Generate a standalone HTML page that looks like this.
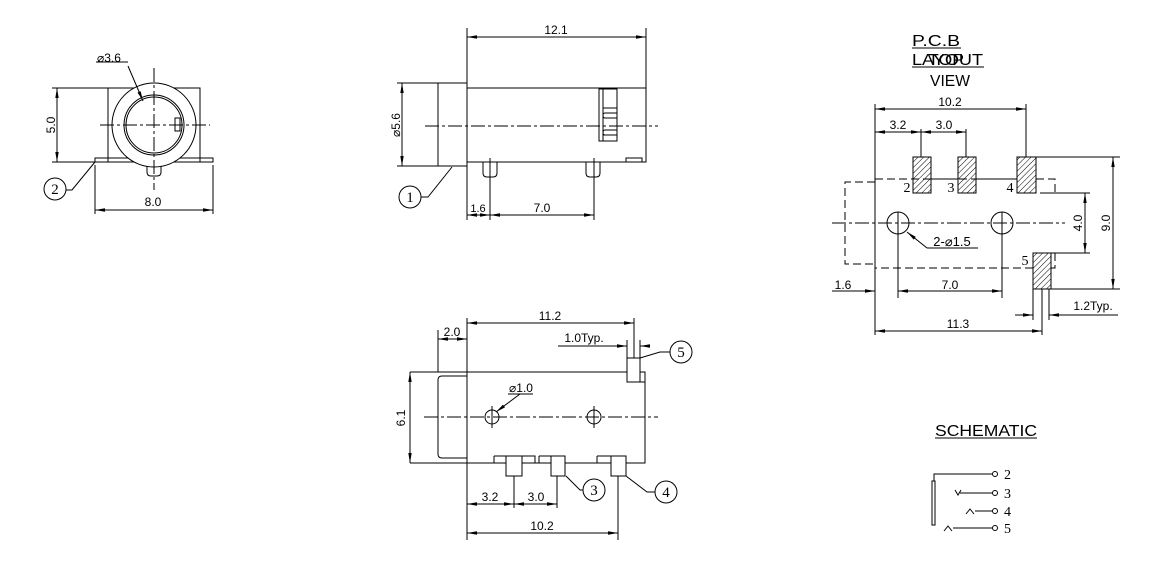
<!DOCTYPE html>
<html><head><meta charset="utf-8"><style>
html,body{margin:0;padding:0;background:#fff}
svg{display:block}
text{font-family:"Liberation Sans",sans-serif;font-size:12px;fill:#000}
.s{font-family:"Liberation Serif",serif;font-size:15px}
</style></head><body>
<svg width="1163" height="582" viewBox="0 0 1163 582" xmlns="http://www.w3.org/2000/svg">
<defs>
<marker id="a" markerWidth="10" markerHeight="6" refX="10" refY="3" orient="auto" markerUnits="userSpaceOnUse"><path d="M0,1.3 L10,3 L0,4.7z" fill="#000"/></marker>
<marker id="b" markerWidth="10" markerHeight="6" refX="0" refY="3" orient="auto" markerUnits="userSpaceOnUse"><path d="M10,1.3 L0,3 L10,4.7z" fill="#000"/></marker>
<pattern id="h" width="4" height="4" patternUnits="userSpaceOnUse" patternTransform="rotate(45)"><line x1="0" y1="0" x2="0" y2="4" stroke="#000" stroke-width="1"/></pattern>
</defs>
<g fill="none" stroke="#000" stroke-width="1">
<!-- VIEW 1 -->
<rect x="108" y="88" width="92" height="74"/>
<rect x="95" y="158" width="118" height="4"/>
<circle cx="154" cy="125" r="42" fill="#fff"/>
<circle cx="154" cy="125" r="30"/>
<circle cx="154" cy="125" r="28"/>
<rect x="175" y="118" width="5" height="13"/>
<path d="M147,166 V172 Q147,176 151,176 H157 Q161,176 161,172 V166"/>
<path d="M154,68 V190 M100,125 H210" stroke-dasharray="14,3,3,3"/>
<path d="M52,88 H108 M52,162 H95"/>
<line x1="57" y1="88" x2="57" y2="162" marker-start="url(#b)" marker-end="url(#a)"/>
<path d="M95,165 V214 M213,165 V214"/>
<line x1="95" y1="210" x2="213" y2="210" marker-start="url(#b)" marker-end="url(#a)"/>
<line x1="128" y1="66" x2="143" y2="101" marker-end="url(#a)"/>
<path d="M96,62 H128"/>
<circle cx="55" cy="189" r="11"/>
<path d="M66,190 H72 L95,162"/>
<!-- VIEW 2 -->
<rect x="438" y="83" width="29" height="83"/>
<rect x="467" y="88" width="179" height="74"/>
<rect x="599" y="89" width="18" height="52"/>
<path d="M603,89 V141 M603,108 H617 M603,135 H617"/>
<path d="M617,113 H605 Q603,113 603,115.5 Q603,118 605,118 H617 M617,130 H605 Q603,130 603,132.5 Q603,135 605,135 H617"/>
<rect x="626" y="158" width="16" height="4"/>
<path d="M483,162 V173 Q483,177 487,177 H493 Q497,177 497,173 V162 M586,162 V173 Q586,177 590,177 H596 Q600,177 600,173 V162"/>
<path d="M425,126 H658" stroke-dasharray="14,3,3,3"/>
<path d="M467,28 V83 M646,28 V88"/>
<line x1="467" y1="37" x2="646" y2="37" marker-start="url(#b)" marker-end="url(#a)"/>
<path d="M397,83 H438 M397,166 H438"/>
<line x1="402" y1="83" x2="402" y2="166" marker-start="url(#b)" marker-end="url(#a)"/>
<path d="M467,166 V220 M490,158 V220 M594,158 V220"/>
<line x1="467" y1="215" x2="490" y2="215" marker-start="url(#b)" marker-end="url(#a)"/>
<line x1="490" y1="215" x2="594" y2="215" marker-start="url(#b)" marker-end="url(#a)"/>
<circle cx="410" cy="197" r="11"/>
<path d="M421,197 H428 L452,167"/>
<!-- VIEW 3 -->
<path d="M410,372 H645 V463 H410"/>
<path d="M467,372 V463"/>
<path d="M467,376 H442 Q438,376 438,380 V454 Q438,458 442,458 H467"/>
<path d="M438,330 V372"/>
<rect x="627" y="358" width="13" height="24" fill="#fff"/>
<rect x="640" y="372" width="5" height="10"/>
<path d="M424,417 H658" stroke-dasharray="14,3,3,3"/>
<circle cx="492" cy="417" r="7"/>
<circle cx="594" cy="417" r="7"/>
<path d="M492,406 V428 M594,406 V428"/>
<path d="M494,456 H506 V463 M522,456 H535 V463 M539,456 H551 V463 M597,456 H611 V463"/>
<rect x="506" y="456" width="16" height="20" fill="#fff"/>
<rect x="551" y="456" width="14" height="20" fill="#fff"/>
<rect x="611" y="456" width="15" height="20" fill="#fff"/>
<path d="M494,456 V463 M539,456 V463 M597,456 V463"/>
<path d="M467,318 V540 M634,318 V358 M514,476 V508 M557,476 V508 M618,476 V540"/>
<line x1="467" y1="323" x2="634" y2="323" marker-start="url(#b)" marker-end="url(#a)"/>
<line x1="438" y1="339" x2="467" y2="339" marker-start="url(#b)" marker-end="url(#a)"/>
<path d="M627,340 V358 M640,340 V358"/>
<line x1="558" y1="346" x2="627" y2="346" marker-end="url(#a)"/>
<line x1="650" y1="346" x2="640" y2="346" marker-end="url(#a)"/>
<line x1="410" y1="372" x2="410" y2="463" marker-start="url(#b)" marker-end="url(#a)"/>
<line x1="467" y1="504" x2="514" y2="504" marker-start="url(#b)" marker-end="url(#a)"/>
<line x1="514" y1="504" x2="557" y2="504" marker-start="url(#b)" marker-end="url(#a)"/>
<line x1="467" y1="533" x2="618" y2="533" marker-start="url(#b)" marker-end="url(#a)"/>
<line x1="520" y1="394" x2="496" y2="412" marker-end="url(#a)"/>
<path d="M508,394 H533"/>
<path d="M566,476 L580,490 H583 M626,476 L647,492 H655 M640,358 L660,352 H670"/>
<circle cx="594" cy="490" r="11"/>
<circle cx="666" cy="492" r="11"/>
<circle cx="681" cy="352" r="11"/>
<!-- PCB -->
<path d="M875,179 H1017 M1036,179 H1055 V193 M1055,253 V268 H1051 M1033,268 H875 V179 M875,182 H845 V264 H875" stroke-dasharray="8,4"/>
<path d="M931,179 H958 M976,179 H1017"/>
<circle cx="898" cy="223" r="11"/>
<circle cx="1002" cy="223" r="11"/>
<path d="M898,212 V298 M1002,212 V298"/>
<path d="M832,223 H1065" stroke-dasharray="14,3,3,3"/>
<rect x="913" y="157" width="18" height="36" fill="url(#h)"/>
<rect x="958" y="157" width="18" height="36" fill="url(#h)"/>
<rect x="1017" y="157" width="19" height="36" fill="url(#h)"/>
<rect x="1033" y="253" width="18" height="36" fill="url(#h)"/>
<path d="M875,104 V335 M921,129 V157 M966,129 V157 M1026,104 V157"/>
<line x1="875" y1="109" x2="1026" y2="109" marker-start="url(#b)" marker-end="url(#a)"/>
<line x1="875" y1="132" x2="921" y2="132" marker-start="url(#b)" marker-end="url(#a)"/>
<line x1="921" y1="132" x2="966" y2="132" marker-start="url(#b)" marker-end="url(#a)"/>
<path d="M1036,157 H1120 M1051,289 H1120 M1040,193 H1090 M1051,253 H1090"/>
<line x1="1113" y1="157" x2="1113" y2="289" marker-start="url(#b)" marker-end="url(#a)"/>
<line x1="1085" y1="193" x2="1085" y2="253" marker-start="url(#b)" marker-end="url(#a)"/>
<line x1="898" y1="291" x2="1002" y2="291" marker-start="url(#b)" marker-end="url(#a)"/>
<line x1="832" y1="291" x2="875" y2="291" marker-end="url(#a)"/>
<line x1="875" y1="331" x2="1042" y2="331" marker-start="url(#b)" marker-end="url(#a)"/>
<path d="M1033,289 V320 M1042,289 V335 M1049,289 V320"/>
<line x1="1015" y1="315" x2="1033" y2="315" marker-end="url(#a)"/>
<line x1="1118" y1="315" x2="1049" y2="315" marker-end="url(#a)"/>
<line x1="927" y1="248" x2="907" y2="232" marker-end="url(#a)"/>
<path d="M927,248 H978"/>
<path d="M912,48 H961 M912,67 H984 M935,438 H1037"/>
<!-- schematic -->
<rect x="932" y="481" width="3" height="44"/>
<path d="M934,481 V474 H992 M960,493 H992 M975,511 H992 M953,528 H992"/>
<path d="M955,490 L958,495 L961,490 M966,514 L970,509 L974,514 M944,531 L948,526 L952,531"/>
<circle cx="995" cy="474" r="2.5"/>
<circle cx="995" cy="493" r="2.5"/>
<circle cx="995" cy="511" r="2.5"/>
<circle cx="995" cy="528" r="2.5"/>
</g>
<!-- text -->
<text x="97" y="62">⌀3.6</text>
<text x="0" y="0" transform="translate(55,125) rotate(-90)" text-anchor="middle">5.0</text>
<text x="153" y="206" text-anchor="middle">8.0</text>
<text class="s" x="55" y="194" text-anchor="middle">2</text>
<text x="556" y="34" text-anchor="middle">12.1</text>
<text x="0" y="0" transform="translate(400,125) rotate(-90)" text-anchor="middle">⌀5.6</text>
<text x="478" y="212" text-anchor="middle" style="font-size:11px">1.6</text>
<text x="542" y="212" text-anchor="middle">7.0</text>
<text class="s" x="410" y="202" text-anchor="middle">1</text>
<text x="550" y="320" text-anchor="middle">11.2</text>
<text x="452" y="336" text-anchor="middle">2.0</text>
<text x="584" y="342" text-anchor="middle">1.0Typ.</text>
<text x="0" y="0" transform="translate(405,418) rotate(-90)" text-anchor="middle">6.1</text>
<text x="521" y="392" text-anchor="middle">⌀1.0</text>
<text x="490" y="501" text-anchor="middle">3.2</text>
<text x="536" y="501" text-anchor="middle">3.0</text>
<text x="542" y="530" text-anchor="middle">10.2</text>
<text class="s" x="594" y="495" text-anchor="middle">3</text>
<text class="s" x="666" y="497" text-anchor="middle">4</text>
<text class="s" x="681" y="357" text-anchor="middle">5</text>
<text x="912" y="46" style="font-size:16px" textLength="48" lengthAdjust="spacingAndGlyphs">P.C.B</text>
<text x="912" y="65" style="font-size:16px" textLength="71" lengthAdjust="spacingAndGlyphs">LAYOUT</text>
<text x="928" y="65" style="font-size:16px" textLength="36" lengthAdjust="spacingAndGlyphs">TOP</text>
<text x="930" y="86" style="font-size:16px" textLength="40" lengthAdjust="spacingAndGlyphs">VIEW</text>
<text x="950" y="106" text-anchor="middle">10.2</text>
<text x="898" y="129" text-anchor="middle">3.2</text>
<text x="944" y="129" text-anchor="middle">3.0</text>
<text class="s" x="907" y="192" text-anchor="middle" style="font-size:14px">2</text>
<text class="s" x="951" y="192" text-anchor="middle" style="font-size:14px">3</text>
<text class="s" x="1010" y="192" text-anchor="middle" style="font-size:14px">4</text>
<text class="s" x="1025" y="265" text-anchor="middle" style="font-size:14px">5</text>
<text x="952" y="246" text-anchor="middle" style="font-size:13px">2-⌀1.5</text>
<text x="0" y="0" transform="translate(1082,223) rotate(-90)" text-anchor="middle">4.0</text>
<text x="0" y="0" transform="translate(1110,223) rotate(-90)" text-anchor="middle">9.0</text>
<text x="950" y="289" text-anchor="middle">7.0</text>
<text x="843" y="289" text-anchor="middle">1.6</text>
<text x="958" y="328" text-anchor="middle">11.3</text>
<text x="1093" y="310" text-anchor="middle">1.2Typ.</text>
<text x="935" y="436" style="font-size:16px" textLength="102" lengthAdjust="spacingAndGlyphs">SCHEMATIC</text>
<text class="s" x="1004" y="479" style="font-size:14px">2</text>
<text class="s" x="1004" y="498" style="font-size:14px">3</text>
<text class="s" x="1004" y="516" style="font-size:14px">4</text>
<text class="s" x="1004" y="533" style="font-size:14px">5</text>
</svg>
</body></html>
